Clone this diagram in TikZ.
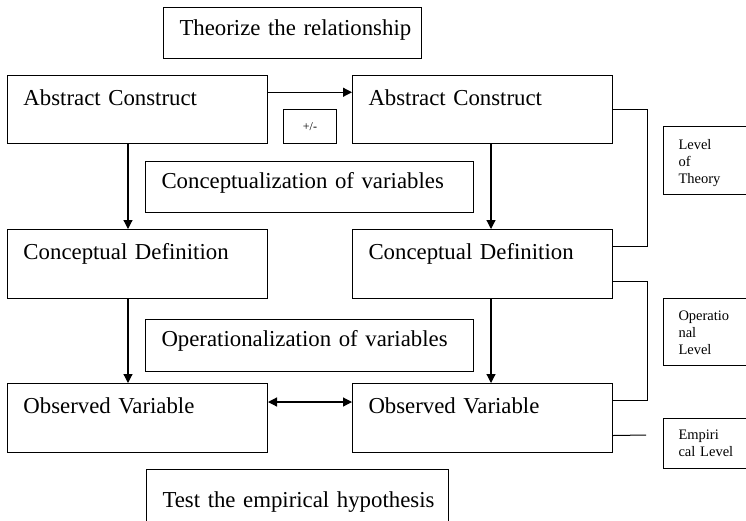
\documentclass[tikz,border=0pt]{standalone}
\usepackage{fontspec}
\setmainfont{Liberation Serif}
\usetikzlibrary{arrows.meta,calc}

\begin{document}
\begin{tikzpicture}[x=1pt, y=1pt,
  box/.style={draw, line width=1pt, anchor=north west, align=left, inner ysep=0pt, inner xsep=0pt, text width=#1, execute at begin node={\hspace*{16pt}}, font=\fontsize{22.8}{27}\selectfont},
  lvl/.style={draw, line width=1pt, anchor=north west, align=left, inner ysep=0pt, inner xsep=15pt, text width=80pt, font=\fontsize{14.5}{17}\selectfont},
  link/.style={line width=1.2pt, -{Triangle[length=9pt,width=9pt]}},
  tie/.style={line width=1pt}]

% Frame (boxes on the right run off the page)
\path[use as bounding box, clip] (0,0) rectangle (746,-520);

% Top and bottom captions
\node[box=258pt, text height=28pt, text depth=23pt] (theory) at (163,-7) {Theorize the relationship};
\node[box=302pt, text height=38pt, text depth=20pt] (test) at (146,-469) {Test the empirical hypothesis};

% Abstract constructs
\node[box=260pt, text height=30pt, text depth=38pt] (ac1) at (7,-75) {Abstract Construct};
\node[box=260pt, text height=30pt, text depth=38pt] (ac2) at (352,-75) {Abstract Construct};
\node[draw, line width=1pt, anchor=north west, minimum width=53pt, minimum height=34pt, inner sep=0pt, font=\fontsize{12}{14}\selectfont] (sign) at (283,-109) {+/-};

% Conceptual definitions
\node[box=328pt, text height=27pt, text depth=24pt] (concept) at (145,-161) {Conceptualization of variables};
\node[box=260pt, text height=30pt, text depth=39pt] (cd1) at (7,-229) {Conceptual Definition};
\node[box=260pt, text height=30pt, text depth=39pt] (cd2) at (352,-229) {Conceptual Definition};

% Observed variables
\node[box=328pt, text height=27pt, text depth=25pt] (oper) at (145,-319) {Operationalization of variables};
\node[box=260pt, text height=30pt, text depth=39pt] (ov1) at (7,-383) {Observed Variable};
\node[box=260pt, text height=30pt, text depth=39pt] (ov2) at (352,-383) {Observed Variable};

% Levels
\node[lvl, text height=23pt, text depth=45pt] (theorylvl) at (663,-126) {Level\\of\\Theory};
\node[lvl, text height=22pt, text depth=45pt] (operlvl) at (663,-298) {Operatio\\nal\\Level};
\node[lvl, text height=21pt, text depth=29pt] (emplvl) at (663,-418) {Empiri\\cal Level};

% Arrows
\draw[link] ($(ac1.north east)!0.25!(ac1.south east)$) -- ($(ac2.north west)!0.25!(ac2.south west)$);
\draw[link] ([xshift=121pt]ac1.south west) -- ([xshift=121pt]cd1.north west);
\draw[link] ([xshift=139pt]ac2.south west) -- ([xshift=139pt]cd2.north west);
\draw[link] ([xshift=121pt]cd1.south west) -- ([xshift=121pt]ov1.north west);
\draw[link] ([xshift=139pt]cd2.south west) -- ([xshift=139pt]ov2.north west);
\draw[link, {Triangle[length=9pt,width=9pt]}-{Triangle[length=9pt,width=9pt]}] ([yshift=-19pt]ov1.north east) -- ([yshift=-19pt]ov2.north west);

% Brackets to the levels
\draw[tie] (ac2.east) -- ++(34,0) |- ($(cd2.north east)!0.25!(cd2.south east)$);
\draw[tie] ($(cd2.north east)!0.75!(cd2.south east)$) -- ++(34,0) |- ($(ov2.north east)!0.25!(ov2.south east)$);
\coordinate (tail) at (646,-435);
\draw[tie] ($(ov2.north east)!0.75!(ov2.south east)$) -- (tail);

\end{tikzpicture}
\end{document}
